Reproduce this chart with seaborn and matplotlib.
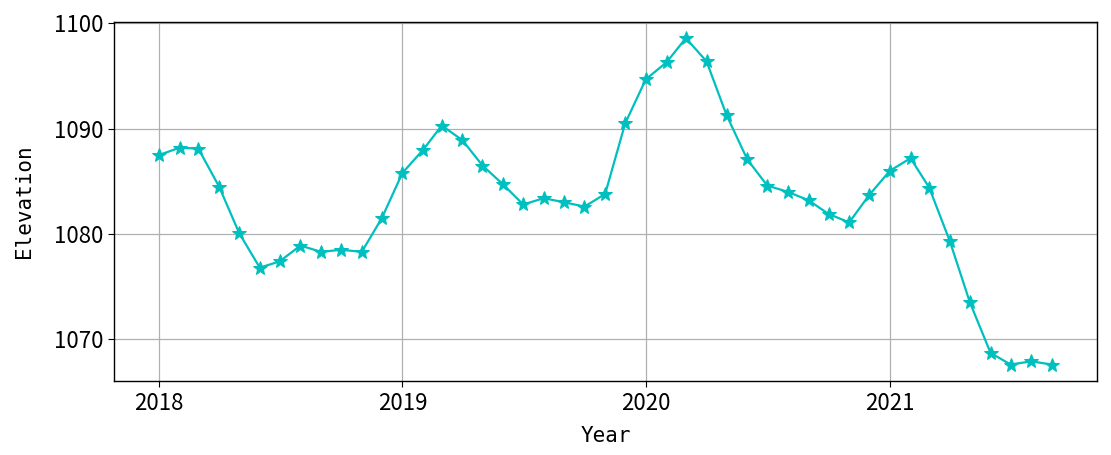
import pandas as pd
import matplotlib.pyplot as plt
import matplotlib.dates as mdates
import seaborn as sns

# monthly elevation, 2018-01 .. 2021-09
months = pd.date_range("2018-01-01", "2021-09-01", freq="MS")
elevation = [
    1087.5, 1088.2, 1088.1, 1084.5, 1080.1, 1076.8, 1077.4, 1078.9, 1078.3, 1078.5, 1078.3, 1081.5,
    1085.8, 1088.0, 1090.3, 1088.9, 1086.5, 1084.7, 1082.8, 1083.4, 1083.0, 1082.6, 1083.8, 1090.5,
    1094.7, 1096.3, 1098.6, 1096.4, 1091.3, 1087.1, 1084.6, 1084.0, 1083.2, 1081.9, 1081.1, 1083.7,
    1086.0, 1087.2, 1084.4, 1079.3, 1073.5, 1068.7, 1067.6, 1067.9, 1067.6,
]
df = pd.DataFrame({"Year": months, "Elevation": elevation})

sns.set_style("ticks")
plt.rcParams["font.family"] = ["Noto Sans CJK SC", "DejaVu Sans"]
plt.rcParams["text.color"] = "black"
plt.rcParams["axes.labelcolor"] = "black"
plt.rcParams["xtick.color"] = "black"
plt.rcParams["ytick.color"] = "black"

fig, ax = plt.subplots(figsize=(11.11, 4.55), dpi=100)
sns.lineplot(data=df, x="Year", y="Elevation", ax=ax, color="c", marker="*",
             markersize=10, markeredgecolor="c", linewidth=1.6)

ax.xaxis.set_major_locator(mdates.YearLocator())
ax.xaxis.set_major_formatter(mdates.DateFormatter("%Y"))
ax.set_yticks([1070, 1080, 1090, 1100])
ax.grid(True, color="#b0b0b0", linewidth=0.9)
for s in ax.spines.values():
    s.set_color("black")
    s.set_linewidth(1.0)
ax.tick_params(labelsize=16, length=4, pad=4)
# labels look like a half-width monospaced font in the original
ax.set_xlabel("Year", fontsize=15, family="DejaVu Sans Mono", labelpad=8)
ax.set_ylabel("Elevation", fontsize=15, family="DejaVu Sans Mono", labelpad=14)

plt.subplots_adjust(left=0.103, right=0.987, top=0.952, bottom=0.163)
fig.savefig("out.png", dpi=100)
